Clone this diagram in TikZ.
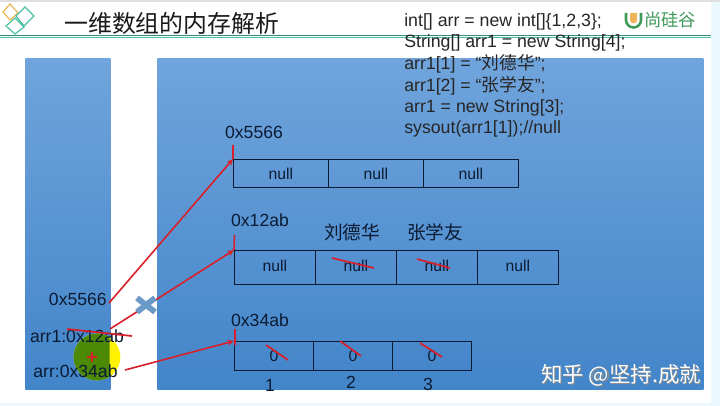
\documentclass[tikz,border=0pt]{standalone}
\usepackage{fontspec}
\setmainfont{Liberation Sans}
\newfontfamily\cjk{Noto Sans CJK SC}
\usetikzlibrary{arrows.meta,shadows}
\definecolor{paneltop}{HTML}{70A4DC}
\definecolor{panelbot}{HTML}{4285C9}
\definecolor{ink}{HTML}{0B1B33}
\definecolor{redline}{HTML}{D9202A}
\definecolor{teal}{HTML}{2F8F78}
\definecolor{tealb}{HTML}{4DBFA5}
\definecolor{orng}{HTML}{EDB45A}
\definecolor{logog}{HTML}{3F9A5A}
\definecolor{cursorg}{HTML}{4C8A05}
\definecolor{crossc}{HTML}{6C9AC8}
\tikzset{
  panel/.style={draw=none,top color=paneltop,bottom color=panelbot,drop shadow={opacity=.35,shadow xshift=.6pt,shadow yshift=-.8pt},anchor=north west,minimum width=#1,inner sep=0},
  cellbox/.style={draw=ink,line width=.6pt,anchor=north west,inner sep=0,font=\fontsize{11.8}{13}\selectfont,text=ink},
  lab/.style={font=\fontsize{13.2}{15}\selectfont,text=ink,inner sep=0},
  cjklab/.style={font=\cjk\fontsize{14}{16}\selectfont,text=ink,inner sep=0},
  code/.style={font=\fontsize{13.3}{15}\selectfont,text=black!85,inner sep=0,anchor=west},
  redl/.style={draw=redline,line width=1.2pt},
  redarrow/.style={redl,-{Stealth[length=5pt,width=4.5pt]}},
  strike/.style={draw=redline,line width=1.3pt},
  diam/.style={line width=.9pt}
}
\newcommand{\upnull}{\raisebox{2.2pt}{null}}
\begin{document}
\begin{tikzpicture}[x=.75pt,y=-.75pt]
\useasboundingbox (0,0) rectangle (720,406);
\fill[white] (0,0) rectangle (720,406);
\fill[black!12] (0,0) rectangle (720,2.5);
\fill[blue!30!cyan!8] (711,2.5) rectangle (720,406);
\fill[blue!30!cyan!8] (0,403) rectangle (720,406);

% panels
\node[panel=63.75pt,minimum height=248.25pt] (stack) at (25,58) {};
\node[panel=409.5pt,minimum height=248.25pt] (heap) at (157,58) {};

% header
\draw[teal,line width=1.3pt] (0,35.5) -- (711,35.5);
\draw[tealb,line width=.5pt] (0,37) -- (711,37);
\draw[orng,diam] (10,4) -- (18,13) -- (10,20) -- (3,12) -- cycle;
\draw[tealb,diam] (25,7) -- (34,16) -- (24,26) -- (16,16) -- cycle;
\draw[tealb,diam] (15,18) -- (24,27) -- (15,34) -- (6,26) -- cycle;
\node[font=\cjk\fontsize{17.9}{20}\selectfont,text=black!90,inner sep=0,anchor=west] (title) at (64,23) {一维数组的内存解析};

% logo
\fill[orng] (630,13) rectangle (637,20) (630,20) arc[start angle=180,end angle=0,radius=3.5];
\draw[logog,line width=1.9pt] (626,13) -- (626,20) arc[start angle=180,end angle=0,radius=7.5] -- (641,13);
\node[font=\cjk\fontsize{13}{14}\selectfont,text=logog,inner sep=0,anchor=west] (logo) at (644,20) {尚硅谷};

% code
\node[code] (c1) at (404,22) {int[] arr = new int[]\{1,2,3\};};
\node[code] (c2) at (404,43) {String[] arr1 = new String[4];};
\node[code] (c3) at (404,64) {arr1[1] = “{\cjk 刘德华}”;};
\node[code] (c4) at (404,86) {arr1[2] = “{\cjk 张学友}”;};
\node[code] (c5) at (404,108) {arr1 = new String[3];};
\node[code] (c6) at (404,129) {sysout(arr1[1]);//null};

% array 1
\node[cellbox,minimum width=71.25pt,minimum height=21pt] (a1) at (233,159) {null};
\node[cellbox,minimum width=71.25pt,minimum height=21pt] (a2) at (328,159) {null};
\node[cellbox,minimum width=71.25pt,minimum height=21pt] (a3) at (423,159) {null};
% array 2
\node[cellbox,minimum width=60.75pt,minimum height=25.5pt] (b1) at (234,250) {\upnull};
\node[cellbox,minimum width=60.75pt,minimum height=25.5pt] (b2) at (315,250) {\upnull};
\node[cellbox,minimum width=60.75pt,minimum height=25.5pt] (b3) at (396,250) {\upnull};
\node[cellbox,minimum width=60.75pt,minimum height=25.5pt] (b4) at (477,250) {\upnull};
% array 3
\node[cellbox,minimum width=59.25pt,minimum height=22pt] (d1) at (234,341) {0};
\node[cellbox,minimum width=59.25pt,minimum height=22pt] (d2) at (313,341) {0};
\node[cellbox,minimum width=59.25pt,minimum height=22pt] (d3) at (392,341) {0};

% labels
\node[lab] (h1) at (254,132) {0x5566};
\node[lab] (h2) at (260,220) {0x12ab};
\node[lab] (h3) at (260,320) {0x34ab};
\node[cjklab] (n1) at (352,232) {刘德华};
\node[cjklab] (n2) at (435,232) {张学友};
\node[lab] (i1) at (270,385) {1};
\node[lab] (i2) at (351,382) {2};
\node[lab] (i3) at (428,384) {3};

% cursor highlight
\fill[yellow] (97,357) circle (17.5pt);
\begin{scope}
\clip (25,300) rectangle (109.5,400);
\fill[cursorg] (97,357) circle (17.5pt);
\end{scope}
\draw[redline,line width=.8pt] (87,357) -- (97,357) (92,352) -- (92,362);

% stack labels
\node[lab,anchor=east] (s1) at (107,299) {0x5566};
\node[lab,anchor=center] (s2) at (77,336) {arr1:0x12ab};
\node[lab,anchor=center] (s3) at (75.5,371) {arr:0x34ab};

% ticks and pointers
\coordinate (t1) at (233,145);
\coordinate (t2) at (234.5,235);
\coordinate (t3) at (235,329);
\coordinate (f1) at (109,303);
\coordinate (f2) at (110,329);
\coordinate (f3) at (125,370);
\draw[redl] (t1) -- (a1.north west);
\draw[redl] (t2) -- (b1.north west);
\draw[redl] (t3) -- (235,345);
\draw[redarrow] (f1) -- (a1.north west);
\draw[redarrow] (f2) -- (b1.north west);
\draw[redarrow] (f3) -- (d1.north west);

% cross mark
\draw[crossc,line width=4.4pt] (137,298) -- (155,312) (137,312) -- (155,298);

% strikes
\draw[strike] (67,329) -- (132,336);
\draw[strike] (332,258) -- (374,268);
\draw[strike] (417,259) -- (450,268);
\draw[strike] (266,345) -- (288,360);
\draw[strike] (340,341) -- (361,356);
\draw[strike] (420,343) -- (442,357);

% watermark
\node[font=\cjk\fontsize{16.1}{18}\selectfont,text=black!45,inner sep=0,anchor=west] at (542.2,376.2) {知乎 @坚持.成就};
\node[font=\cjk\fontsize{16.1}{18}\selectfont,text=white,inner sep=0,anchor=west] (wm) at (541,375) {知乎 @坚持.成就};
\end{tikzpicture}
\end{document}
